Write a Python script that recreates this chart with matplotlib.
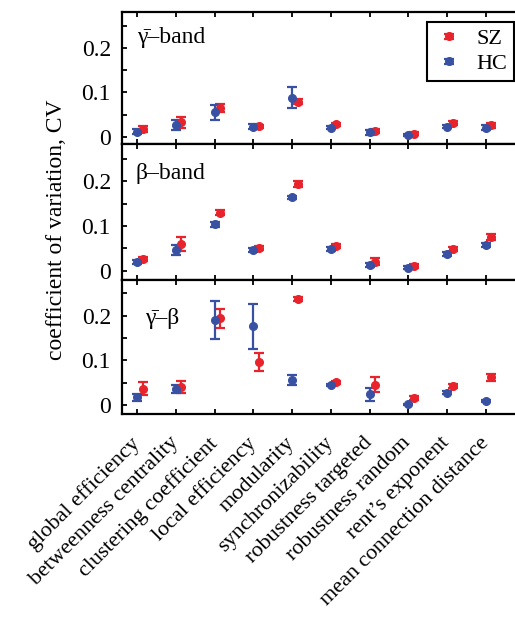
import numpy as np
import matplotlib
matplotlib.use('Agg')
import matplotlib.pyplot as plt
import matplotlib.transforms as mtransforms
from matplotlib.container import ErrorbarContainer
from matplotlib.legend_handler import HandlerErrorbar

plt.rcParams['font.family'] = ['Liberation Serif', 'DejaVu Serif']

metrics = ['global efficiency', 'betweenness centrality', 'clustering coefficient',
           'local efficiency', 'modularity', 'synchronizability', 'robustness targeted',
           'robustness random', 'rent\u2019s exponent', 'mean connection distance']

# gamma band
hc_gamma = [0.012, 0.027, 0.055, 0.023, 0.088, 0.021, 0.010, 0.0045, 0.023, 0.021]
hc_gamma_err = [0.005, 0.012, 0.017, 0.005, 0.024, 0.004, 0.005, 0.003, 0.004, 0.005]
sz_gamma = [0.018, 0.033, 0.066, 0.024, 0.079, 0.028, 0.013, 0.007, 0.031, 0.026]
sz_gamma_err = [0.007, 0.012, 0.009, 0.003, 0.006, 0.004, 0.005, 0.003, 0.004, 0.005]

# beta band
hc_beta = [0.0195, 0.046, 0.104, 0.046, 0.1645, 0.048, 0.013, 0.007, 0.0375, 0.057]
hc_beta_err = [0.005, 0.011, 0.006, 0.005, 0.004, 0.004, 0.005, 0.003, 0.004, 0.005]
sz_beta = [0.0255, 0.059, 0.130, 0.051, 0.194, 0.055, 0.020, 0.0105, 0.048, 0.076]
sz_beta_err = [0.005, 0.016, 0.006, 0.004, 0.007, 0.004, 0.008, 0.004, 0.004, 0.007]

# gamma - beta
hc_gb = [0.017, 0.035, 0.190, 0.176, 0.056, 0.045, 0.024, 0.0015, 0.0276, 0.0097]
hc_gb_err = [0.008, 0.009, 0.042, 0.050, 0.011, 0.003, 0.014, 0.002, 0.003, 0.002]
sz_gb = [0.037, 0.041, 0.194, 0.097, 0.237, 0.051, 0.046, 0.016, 0.0426, 0.062]
sz_gb_err = [0.015, 0.013, 0.021, 0.020, 0.004, 0.003, 0.016, 0.005, 0.004, 0.007]

panel_names = ['\u03b3\u0304\u2013band', '\u03b2\u2013band', '\u03b3\u0304\u2013\u03b2']

red = '#e8232b'
blue = '#3851a3'

W, H = 515, 619
fig = plt.figure(figsize=(W / 100, H / 100), dpi=100)

# panel boxes in pixels (top, bottom)
boxes = [(12, 144), (144, 280), (280, 414)]
ylims = [(-0.016, 0.281), (-0.021, 0.284), (-0.020, 0.280)]
name_pos = [(0.038, 0.81), (0.034, 0.785), (0.058, 0.715)]

hc_all = [(hc_gamma, hc_gamma_err), (hc_beta, hc_beta_err), (hc_gb, hc_gb_err)]
sz_all = [(sz_gamma, sz_gamma_err), (sz_beta, sz_beta_err), (sz_gb, sz_gb_err)]

x = np.arange(1, len(metrics) + 1)
left_px = 122
axes = []
for i, (top, bot) in enumerate(boxes):
    ax = fig.add_axes([left_px / W, 1 - bot / H, (W - left_px + 2) / W, (bot - top) / H])
    axes.append(ax)
    hc, hc_err = hc_all[i]
    sz, sz_err = sz_all[i]
    eb_sz = ax.errorbar(x + 0.14, sz, yerr=sz_err, fmt='o', color=red, ms=5.5,
                        capsize=3.5, elinewidth=1.6, capthick=1.6, label='SZ')
    eb_hc = ax.errorbar(x, hc, yerr=hc_err, fmt='o', color=blue, ms=5.5,
                        capsize=3.5, elinewidth=1.6, capthick=1.6, label='HC')
    ax.set_xlim(0.61, 10.8)
    ax.set_ylim(*ylims[i])
    ax.set_xticks(x)
    ax.set_yticks([0, 0.1, 0.2])
    ax.set_yticklabels(['0', '0.1', '0.2'])
    ax.set_yticks([0.05, 0.15, 0.25], minor=True)
    ax.tick_params(axis='both', which='both', direction='in', length=3.5, width=1.3,
                   top=True)
    ax.tick_params(axis='y', pad=8, labelsize=17)
    ax.spines['right'].set_visible(False)
    for s in ['left', 'top', 'bottom']:
        ax.spines[s].set_linewidth(1.6)
    ax.text(name_pos[i][0], name_pos[i][1], panel_names[i], transform=ax.transAxes,
            fontsize=17, ha='left', va='center')
    if i < 2:
        ax.set_xticklabels([])
    else:
        ax.set_xticklabels(metrics, rotation=45, ha='right', va='top',
                           rotation_mode='anchor', fontsize=16)
        ax.tick_params(axis='x', pad=14)
        shift = mtransforms.ScaledTranslation(-7 / 100, 0, fig.dpi_scale_trans)
        for lab in ax.get_xticklabels():
            lab.set_transform(lab.get_transform() + shift)
    if i == 0:
        leg = ax.legend(handles=[eb_sz, eb_hc], loc='upper right',
                        bbox_to_anchor=(0.992, 0.924), borderaxespad=0,
                        fontsize=16, fancybox=False, framealpha=1,
                        edgecolor='black', handlelength=1.3, handletextpad=0.6,
                        labelspacing=0.2, borderpad=0.3,
                        handler_map={ErrorbarContainer: HandlerErrorbar(yerr_size=0.12)})
        leg.get_frame().set_linewidth(1.5)

fig.text(56 / W, 1 - 230 / H, 'coefficient of variation, CV', rotation=90,
         ha='center', va='center', fontsize=17)

fig.savefig('out.png', dpi=100)
